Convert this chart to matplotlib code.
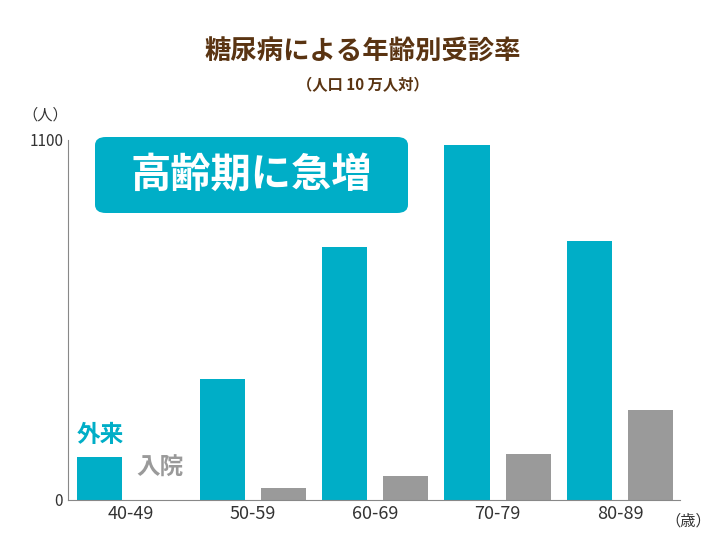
import matplotlib
matplotlib.use("Agg")
import matplotlib.pyplot as plt
from matplotlib.patches import FancyBboxPatch
import numpy as np

plt.rcParams['font.family'] = ['Noto Sans CJK JP', 'DejaVu Sans']

categories = ["40-49", "50-59", "60-69", "70-79", "80-89"]
outpatient = [130, 370, 773, 1085, 792]
inpatient = [1, 37, 73, 140, 275]

teal = "#00aec7"
gray = "#9a9a9a"
W, H = 726, 545
fig = plt.figure(figsize=(W/100, H/100), dpi=100)
ax = fig.add_axes([68/W, 1-500/H, (680-68)/W, 360/H])
x = np.arange(len(categories))
ax.bar(x-0.25, outpatient, width=0.37, color=teal)
ax.bar(x+0.25, inpatient, width=0.37, color=gray)
ax.set_xlim(-0.51, 4.49)
ax.set_ylim(0, 1100)
ax.set_yticks([0, 1100])
ax.set_yticklabels(["0", "1100"], fontsize=11, color="#333")
ax.set_xticks(x)
ax.set_xticklabels(categories, fontsize=13, color="#333")
ax.tick_params(length=0)
for s in ["top", "right"]:
    ax.spines[s].set_visible(False)
ax.spines["left"].set_color("#888")
ax.spines["bottom"].set_color("#888")

fig.text(363/W, 1-52/H, "糖尿病による年齢別受診率", ha="center", va="center",
         fontsize=19, fontweight="bold", color="#5a3412")
fig.text(363/W, 1-85/H, "（人口 10 万人対）", ha="center", va="center",
         fontsize=11, fontweight="bold", color="#5a3412")
fig.text(45/W, 1-115/H, "（人）", ha="center", va="center", fontsize=11, color="#333")
fig.text(688/W, 1-521/H, "（歳）", ha="center", va="center", fontsize=11, color="#333")

box = FancyBboxPatch((95/W, 1-213/H), (408-95)/W, (213-137)/H,
                     boxstyle="round,pad=0,rounding_size=0.015",
                     transform=fig.transFigure, facecolor=teal, edgecolor="none")
fig.patches.append(box)
fig.text(251/W, 1-175/H, "高齢期に急増", ha="center", va="center",
         fontsize=29, fontweight="bold", color="white")

fig.text(100/W, 1-435/H, "外来", ha="center", va="center", fontsize=17,
         fontweight="bold", color=teal)
fig.text(160/W, 1-468/H, "入院", ha="center", va="center", fontsize=17,
         fontweight="bold", color=gray)

fig.savefig("out.png", dpi=100)
